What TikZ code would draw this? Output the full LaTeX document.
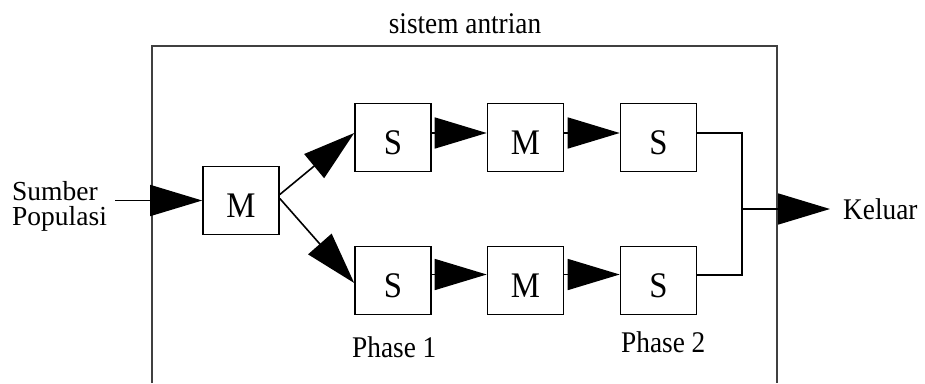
\documentclass[tikz,border=0pt]{standalone}
\usepackage{fontspec}
\setmainfont{Liberation Serif}
\newfontfamily\labelfont[FakeStretch=0.91]{Liberation Serif}
\usetikzlibrary{arrows.meta}
\begin{document}
\begin{tikzpicture}[x=1pt,y=-1pt,
  every node/.style={font=\labelfont\fontsize{30}{25}\selectfont, inner sep=0pt},
  qbox/.style={draw, line width=1.6pt, minimum width=76pt, minimum height=68pt,
    font=\labelfont\fontsize{36}{36}\selectfont, text height=33pt, text depth=0pt},
  conn/.style={line width=1.6pt},
  bigarrow/.style={line width=1.6pt, -{Triangle[length=52pt,width=31pt]}},
  frame/.style={line width=1.6pt, draw=black!75}
]
\useasboundingbox (0,0) rectangle (925,383);
% frame (open at bottom)
\draw[frame] (152,383) -- (152,46) -- (777,46) -- (777,383);
\node[anchor=base] (title) at (465,33) {sistem antrian};

% boxes
\node[qbox] (m0) at (241,200.5) {M};
\node[qbox] (s1t) at (393,137.5) {S};
\node[qbox] (m1t) at (525.5,137.5) {M};
\node[qbox] (s2t) at (658.5,137.5) {S};
\node[qbox] (s1b) at (393,280.5) {S};
\node[qbox] (m1b) at (525.5,280.5) {M};
\node[qbox] (s2b) at (658.5,280.5) {S};

% labels
\node[anchor=base west, align=left, font=\rmfamily\fontsize{27.5}{25.5}\selectfont] (source) at (12,225.5) {Sumber\\Populasi};
\node[anchor=base west] (keluar) at (843,219) {Keluar};
\node[anchor=base west] (ph1) at (352,357) {Phase 1};
\node[anchor=base west] (ph2) at (621,352) {Phase 2};

% coordinates
\coordinate (in) at (115,200.5);
\coordinate (jt) at (742,133);
\coordinate (jb) at (742,275);
\coordinate (jm) at (742,209);
\coordinate (out) at (830,209);

% connectors
\draw[bigarrow] (in) -- (m0.west);
\draw[bigarrow] ([yshift=6pt]m0.east) -- ([yshift=4.5pt]s1t.west);
\draw[bigarrow] ([yshift=2pt]m0.east) -- ([yshift=-2.5pt]s1b.west);
\draw[bigarrow] ([yshift=4.5pt]s1t.east) -- ([yshift=4.5pt]m1t.west);
\draw[bigarrow] ([yshift=4.5pt]m1t.east) -- ([yshift=4.5pt]s2t.west);
\draw[bigarrow] ([yshift=6pt]s1b.east) -- ([yshift=6pt]m1b.west);
\draw[bigarrow] ([yshift=6pt]m1b.east) -- ([yshift=6pt]s2b.west);
\draw[conn] ([yshift=4.5pt]s2t.east) -- (jt) -- (jb) -- ([yshift=5.5pt]s2b.east);
\draw[bigarrow] (jm) -- (out);
\end{tikzpicture}
\end{document}
